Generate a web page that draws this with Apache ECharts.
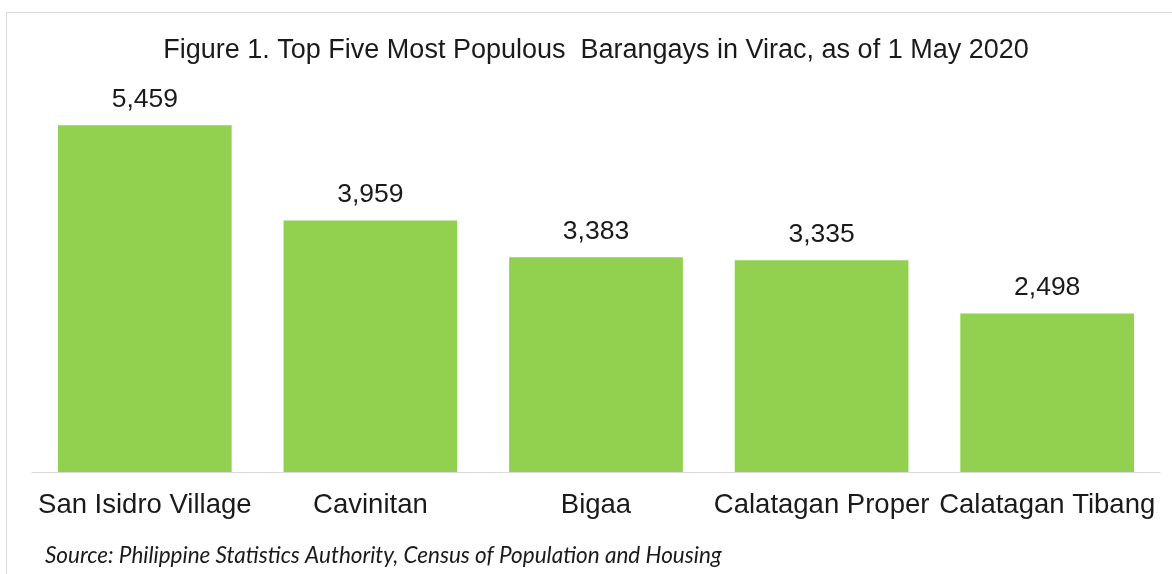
<!DOCTYPE html>
<html>
<head>
<meta charset="utf-8">
<script src="https://cdn.jsdelivr.net/npm/echarts@6/dist/echarts.min.js"></script>
<style>
  html, body { margin: 0; padding: 0; background: #fff; }
  #chart { width: 1172px; height: 574px; }
</style>
</head>
<body>
<div id="chart"></div>
<script>
const barangays = ['San Isidro Village', 'Cavinitan', 'Bigaa', 'Calatagan Proper', 'Calatagan Tibang']
const population = [5459, 3959, 3383, 3335, 2498]

const chartTitle = 'Figure 1. Top Five Most Populous  Barangays in Virac, as of 1 May 2020'
const sourceNote = 'Source: Philippine Statistics Authority, Census of Population and Housing'

let myChart = echarts.init(document.getElementById('chart'))

myChart.setOption({
  animation: false,
  backgroundColor: '#fff',
  title: [
    {
      text: chartTitle,
      left: 591,
      textAlign: 'center',
      top: 32,
      textStyle: { fontFamily: 'Liberation Sans', fontWeight: 'normal', fontSize: 27, color: '#1a1a1a' }
    },
    {
      text: sourceNote,
      left: 40,
      top: 539,
      textStyle: { fontFamily: 'Lato', fontStyle: 'italic', fontWeight: 'normal', fontSize: 22.5, color: '#1a1a1a' }
    }
  ],
  graphic: [
    {
      type: 'rect',
      shape: { x: 6.5, y: 12.5, width: 1200, height: 600 },
      style: { fill: 'none', stroke: '#d9d9d9', lineWidth: 1 },
      silent: true
    }
  ],
  grid: { left: 32, right: 12, top: 91, bottom: 102 },
  xAxis: {
    type: 'category',
    data: barangays,
    axisTick: { show: false },
    axisLine: { lineStyle: { color: '#d9d9d9', width: 1 } },
    axisLabel: {
      interval: 0,
      margin: 19,
      fontFamily: 'Liberation Sans',
      fontSize: 27.5,
      color: '#1a1a1a'
    }
  },
  yAxis: {
    type: 'value',
    min: 0,
    max: 6000,
    show: false,
    splitLine: { show: false }
  },
  series: [
    {
      type: 'bar',
      data: population,
      barCategoryGap: '23%',
      itemStyle: { color: '#92d050' },
      label: {
        show: true,
        position: 'top',
        distance: 12,
        fontFamily: 'Liberation Sans',
        fontSize: 26.5,
        color: '#1a1a1a',
        formatter: p => p.value.toLocaleString('en-US')
      }
    }
  ]
})
</script>
</body>
</html>
